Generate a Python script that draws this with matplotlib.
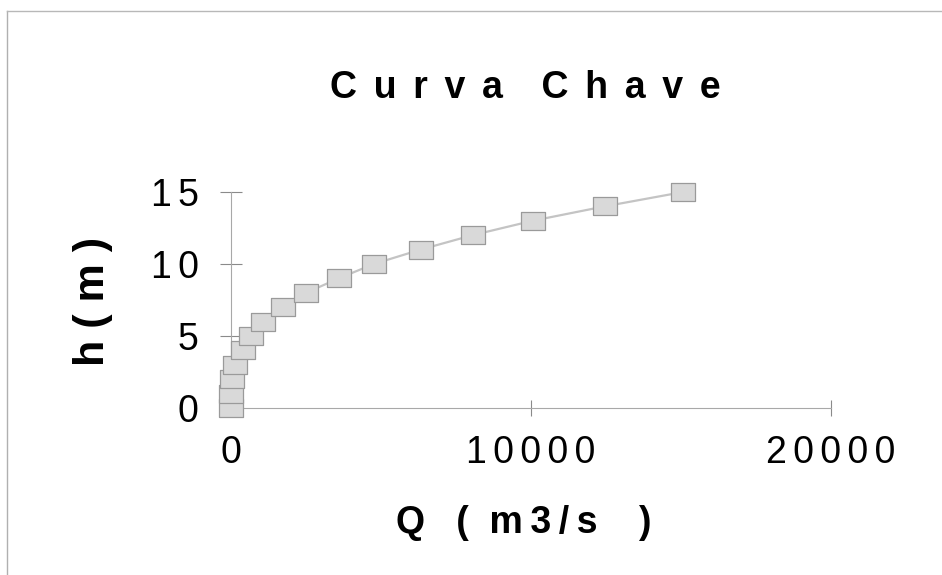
import matplotlib
matplotlib.use("Agg")
import matplotlib.pyplot as plt
from matplotlib.lines import Line2D

# ---- data ----
h_m = [0, 1, 2, 3, 4, 5, 6, 7, 8, 9, 10, 11, 12, 13, 14, 15]
Q_m3s = [0, 5, 20, 130, 400, 665, 1065, 1730, 2500, 3590, 4760, 6320, 8050,
         10050, 12450, 15075]

x_ticks = [0, 10000, 20000]
x_tick_labels = ["0", "1\u20060\u20060\u20060\u20060", "2\u20060\u20060\u20060\u20060"]
y_ticks = [0, 5, 10, 15]
y_tick_labels = ["0", "5", "1\u20060", "1\u20065"]

title = "C \u2006u \u2006r \u2006v \u2006a  \u2009 C \u2006h \u2006a \u2006v \u2006e"
x_label = "Q   (  m\u20093\u2009/\u2009s    )"
y_label = "h ( m )"

FAM = ["Liberation Sans", "DejaVu Sans"]
plt.rcParams["font.family"] = FAM

W, H = 942, 575
fig = plt.figure(figsize=(W / 100, H / 100), dpi=100)
fig.patch.set_facecolor("white")

ax = fig.add_axes([231 / W, (H - 408) / H, 600 / W, 216 / H])
ax.set_facecolor("none")

# rectangular marker (wider than tall)
rect = [(-1, -0.78), (1, -0.78), (1, 0.78), (-1, 0.78), (-1, -0.78)]
ax.plot(Q_m3s, h_m, color="#c4c4c4", lw=1.6, marker=rect, markersize=17,
        markerfacecolor="#d9d9d9", markeredgecolor="#9a9a9a",
        markeredgewidth=0.9, clip_on=False, zorder=3)

ax.set_xlim(0, 20000)
ax.set_ylim(0, 15)
for s in ["top", "right"]:
    ax.spines[s].set_visible(False)
for s in ["left", "bottom"]:
    ax.spines[s].set_color("#a8a8a8")
    ax.spines[s].set_linewidth(0.8)

ax.set_xticks(x_ticks)
ax.set_xticklabels(x_tick_labels)
ax.set_yticks(y_ticks)
ax.set_yticklabels(y_tick_labels)
ax.tick_params(axis="x", direction="inout", length=11.5, width=0.8,
               color="#8a8a8a", pad=14, labelsize=27)
ax.tick_params(axis="y", direction="inout", length=16.5, width=0.8,
               color="#8a8a8a", pad=15, labelsize=27)

fig.text(525 / W, (H - 98) / H, title, ha="center", va="baseline",
         fontsize=27, fontweight="bold", family=FAM)
fig.text(524 / W, (H - 533) / H, x_label, ha="center", va="baseline",
         fontsize=27, fontweight="bold", family=FAM)
fig.text(104 / W, (H - 301) / H, y_label, ha="center", va="baseline",
         rotation=90, rotation_mode="anchor",
         fontsize=31, fontweight="bold", family=FAM)

# thin frame (top and left) of the chart area
fig.add_artist(Line2D([7 / W, 7 / W], [0, (H - 11) / H], color="#b0b0b0",
                      lw=1.0, transform=fig.transFigure))
fig.add_artist(Line2D([7 / W, 1], [(H - 11) / H, (H - 11) / H],
                      color="#b8b8b8", lw=1.0, transform=fig.transFigure))

fig.savefig("out.png", dpi=100)
